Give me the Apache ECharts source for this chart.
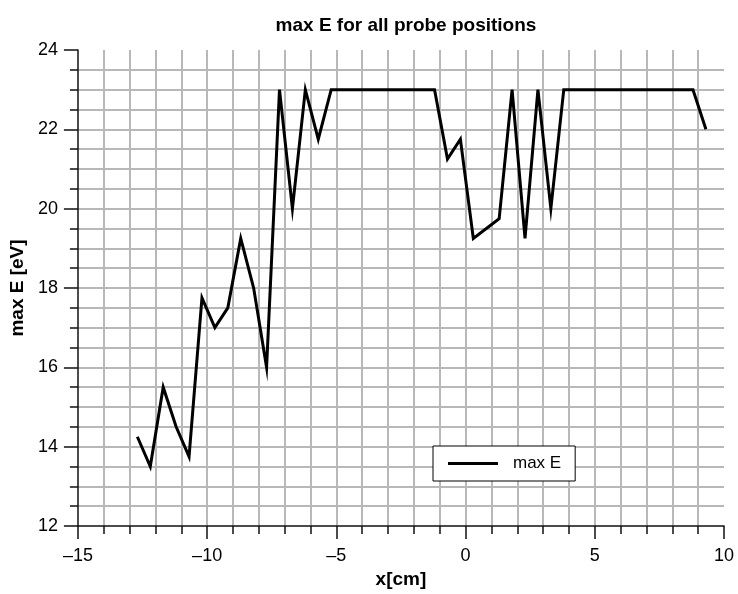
<!DOCTYPE html>
<html>
<head>
<meta charset="utf-8">
<script src="https://cdn.jsdelivr.net/npm/echarts@6/dist/echarts.min.js"></script>
<style>
  html, body { margin: 0; padding: 0; background: #fff; }
  #chart { width: 738px; height: 594px; }
</style>
</head>
<body>
<div id="chart"></div>
<script>
// probe positions [cm] and max energy [eV]
const xPos = [-12.7, -12.2, -11.7, -11.2, -10.7, -10.2, -9.7, -9.2, -8.7, -8.2, -7.7, -7.2, -6.7, -6.2,
  -5.7, -5.2, -1.2, -0.7, -0.2, 0.3, 1.3, 1.8, 2.3, 2.8, 3.3, 3.8, 8.8, 9.3];
const maxE = [14.25, 13.5, 15.5, 14.5, 13.75, 17.75, 17, 17.5, 19.25, 18, 16, 23, 20, 23,
  21.75, 23, 23, 21.25, 21.75, 19.25, 19.75, 23, 19.25, 23, 20, 23, 23, 22];

const fontFamily = '"Liberation Sans", Arial, sans-serif';
const gridColor = '#b8b8b8';
const axisColor = '#111';

const chart = echarts.init(document.getElementById('chart'), null, { renderer: 'canvas' });

chart.setOption({
  animation: false,
  backgroundColor: '#fff',
  textStyle: { fontFamily },
  title: {
    text: 'max E for all probe positions',
    left: 401,
    top: 11,
    textAlign: 'center',
    textStyle: { fontSize: 19, fontWeight: 'bold', color: '#000', fontFamily }
  },
  grid: { left: 77, right: 14, top: 50, bottom: 68 },
  legend: {
    data: ['max E'],
    left: 433,
    top: 446,
    padding: [9, 14, 9, 15],
    backgroundColor: '#fff',
    borderColor: '#000',
    borderWidth: 1,
    itemWidth: 50,
    itemHeight: 3,
    icon: 'rect',
    textStyle: { fontSize: 17, color: '#000', fontFamily, padding: [0, 0, 0, 10] }
  },
  xAxis: {
    type: 'value',
    min: -15,
    max: 10,
    interval: 5,
    name: 'x[cm]',
    nameLocation: 'middle',
    nameGap: 44,
    nameTextStyle: { fontSize: 19, fontWeight: 'bold', color: '#000', fontFamily },
    axisLine: { onZero: false, lineStyle: { color: axisColor, width: 1.5 } },
    axisTick: { length: 13, lineStyle: { color: axisColor, width: 1.5 } },
    minorTick: { show: true, splitNumber: 5, length: 8, lineStyle: { color: axisColor, width: 1.5 } },
    axisLabel: {
      fontSize: 18,
      color: '#000',
      margin: 21,
      fontFamily,
      formatter: (v) => String(v).replace('-', '\u2013')
    },
    splitLine: { show: true, showMinLine: false, showMaxLine: false, lineStyle: { color: gridColor, width: 2 } },
    minorSplitLine: { show: true, lineStyle: { color: gridColor, width: 2 } }
  },
  yAxis: {
    type: 'value',
    min: 12,
    max: 24,
    interval: 2,
    name: 'max E [eV]',
    nameLocation: 'middle',
    nameGap: 44,
    nameTextStyle: { fontSize: 19, fontWeight: 'bold', color: '#000', fontFamily },
    axisLine: { show: true, onZero: false, lineStyle: { color: axisColor, width: 1.5 } },
    axisTick: { show: true, length: 14, lineStyle: { color: axisColor, width: 1.5 } },
    minorTick: { show: true, splitNumber: 4, length: 8, lineStyle: { color: axisColor, width: 1.5 } },
    axisLabel: { fontSize: 18, color: '#000', margin: 20, fontFamily },
    splitLine: { show: true, showMinLine: false, showMaxLine: false, lineStyle: { color: gridColor, width: 2 } },
    minorSplitLine: { show: true, lineStyle: { color: gridColor, width: 2 } }
  },
  series: [
    {
      name: 'max E',
      type: 'line',
      data: xPos.map((x, i) => [x, maxE[i]]),
      showSymbol: false,
      symbol: 'none',
      color: '#000',
      lineStyle: { color: '#000', width: 3, join: 'miter', miterLimit: 10 }
    }
  ]
});
</script>
</body>
</html>
